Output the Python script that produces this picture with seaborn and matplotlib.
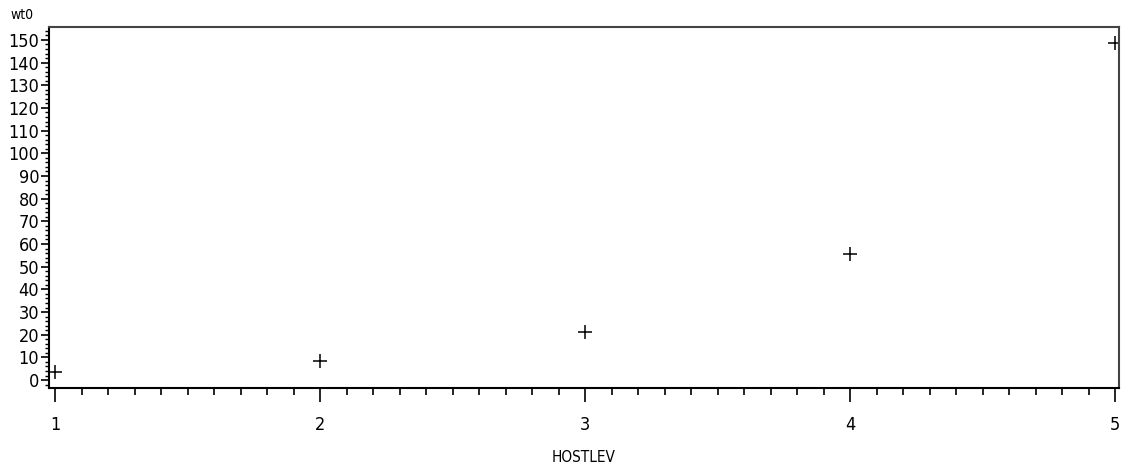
import matplotlib
matplotlib.use("Agg")
import matplotlib.pyplot as plt
import seaborn as sns
import pandas as pd
from matplotlib.ticker import MultipleLocator

# data
hostlev = [1, 2, 3, 4, 5]
wt0 = [3.5, 8.4, 21.2, 55.6, 148.5]

df = pd.DataFrame({"HOSTLEV": hostlev, "wt0": wt0})

sns.set_style("white")
plt.rcParams['font.family'] = ['DejaVu Sans']
plt.rcParams['font.stretch'] = 'condensed'
plt.rcParams['text.color'] = 'black'
plt.rcParams['xtick.color'] = 'black'
plt.rcParams['ytick.color'] = 'black'
plt.rcParams['axes.labelcolor'] = 'black'

fig = plt.figure(figsize=(11.28, 4.71), dpi=100)
ax = fig.add_axes([49 / 1128, 1 - 388 / 471, 1070 / 1128, 361 / 471])

sns.scatterplot(data=df, x="HOSTLEV", y="wt0", marker="+", s=110,
                color="black", linewidth=1.1, ax=ax)

ax.set_xlim(0.977, 5.015)
ax.set_ylim(-3.5, 155.7)
ax.set_xticks(hostlev)
ax.set_yticks(range(0, 151, 10))
ax.xaxis.set_minor_locator(MultipleLocator(0.1))
ax.yaxis.set_minor_locator(MultipleLocator(2))

ax.tick_params(bottom=True, left=True, which="both")
ax.tick_params(axis="x", which="major", direction="out", length=10, width=1.2,
               labelsize=13, pad=10)
ax.tick_params(axis="x", which="minor", direction="out", length=5, width=1.2)
ax.tick_params(axis="y", which="major", direction="out", length=6, width=1.2,
               labelsize=13, pad=1)
ax.tick_params(axis="y", which="minor", direction="out", length=3, width=1)

for side in ["left", "bottom"]:
    ax.spines[side].set_color("black")
    ax.spines[side].set_linewidth(1.5)
for side in ["top", "right"]:
    ax.spines[side].set_color("#444444")
    ax.spines[side].set_linewidth(1.5)

ax.set_xlabel("HOSTLEV", fontsize=11, labelpad=12)
ax.set_ylabel("")
fig.text(10 / 1128, 1 - 22 / 471, "wt0", fontsize=10, ha="left", va="bottom")

plt.savefig("out.png", dpi=100)
